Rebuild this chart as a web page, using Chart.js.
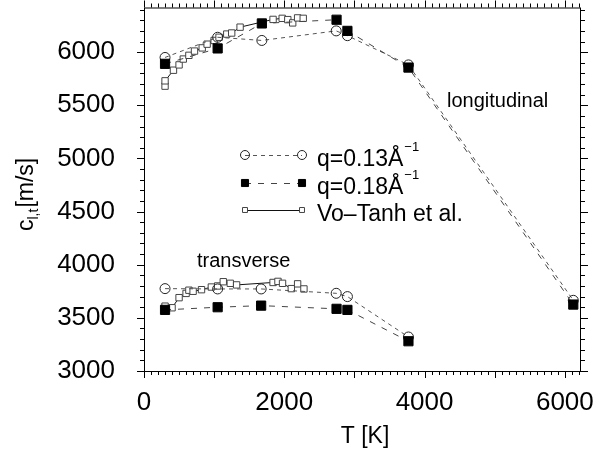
<!DOCTYPE html>
<html>
<head>
<meta charset="utf-8">
<script src="https://cdn.jsdelivr.net/npm/chart.js@4/dist/chart.umd.min.js"></script>
<style>
  html, body { margin: 0; padding: 0; background: #fff; }
  #wrap { width: 600px; height: 456px; }
</style>
</head>
<body>
<div id="wrap"><canvas id="myChart" width="600" height="456"></canvas></div>
<script>
// q = 0.13 1/A, open circles
const tQ13L = [300, 1050, 1680, 2740, 2900, 3770, 6120];
const cQ13L = [5950, 6140, 6110, 6200, 6155, 5880, 3665];
const tQ13T = [300, 1050, 1670, 2740, 2900, 3770];
const cQ13T = [3775, 3772, 3772, 3731, 3700, 3320];
// q = 0.18 1/A, filled squares
const tQ18L = [300, 1050, 1680, 2745, 2900, 3770, 6120];
const cQ18L = [5890, 6035, 6270, 6305, 6200, 5855, 3625];
const tQ18T = [300, 1050, 1670, 2745, 2900, 3770];
const cQ18T = [3575, 3600, 3615, 3585, 3575, 3280];
// Vo-Tanh et al.
const tVTL = [300, 300, 420, 500, 560, 640, 720, 830, 900, 1000, 1070, 1180, 1250, 1370, 1840, 1970, 2050, 2120, 2190, 2270];
const cVTL = [5680, 5730, 5830, 5880, 5935, 5970, 6010, 6040, 6075, 6110, 6140, 6170, 6180, 6235, 6308, 6318, 6306, 6275, 6322, 6318];
const tVTT = [300, 400, 500, 600, 640, 700, 820, 960, 1050, 1130, 1230, 1320, 1840, 1910, 1975, 2100, 2190, 2280];
const cVTT = [3610, 3595, 3690, 3730, 3760, 3750, 3765, 3790, 3800, 3840, 3825, 3810, 3833, 3843, 3825, 3775, 3820, 3772];

const legendNames = ['q=0.13Å', 'q=0.18Å', 'Vo–Tanh et al.'];
const xTickVals = [0, 2000, 4000, 6000];
const yTickVals = [3000, 3500, 4000, 4500, 5000, 5500, 6000];

function pts(xs, ys) {
  return xs.map((x, i) => ({x: x, y: ys[i]}));
}

const FONT = '"Liberation Sans", Arial, sans-serif';

const q13 = {
  showLine: true, borderColor: '#555', borderWidth: 1, borderDash: [4, 4],
  pointStyle: 'circle', pointRadius: 5, pointBorderColor: '#222',
  pointBackgroundColor: 'rgba(255,255,255,0)', pointBorderWidth: 1
};
const q18 = {
  showLine: true, borderColor: '#444', borderWidth: 1, borderDash: [6, 7],
  pointStyle: 'rect', pointRadius: 6.5, pointBorderColor: '#000',
  pointBackgroundColor: '#000', pointBorderWidth: 1
};
const vt = {
  showLine: true, borderColor: '#111', borderWidth: 1,
  pointStyle: 'rect', pointRadius: 4.5, pointBorderColor: '#444',
  pointBackgroundColor: '#fff', pointBorderWidth: 1
};

const data = {
  datasets: [
    Object.assign({label: legendNames[1], data: pts(tQ18L, cQ18L)}, q18),
    Object.assign({label: legendNames[1], data: pts(tQ18T, cQ18T)}, q18),
    Object.assign({label: legendNames[0], data: pts(tQ13L, cQ13L)}, q13),
    Object.assign({label: legendNames[0], data: pts(tQ13T, cQ13T)}, q13),
    Object.assign({label: legendNames[2], data: pts(tVTL, cVTL)}, vt),
    Object.assign({label: legendNames[2], data: pts(tVTT, cVTT)}, vt)
  ]
};

// box, minor ticks, titles, legend, labels
const decor = {
  id: 'decor',
  afterDraw(chart) {
    const ctx = chart.ctx;
    const a = chart.chartArea;
    const xs = chart.scales.x, ys = chart.scales.y;
    ctx.save();
    ctx.strokeStyle = '#000';
    ctx.lineWidth = 1;
    ctx.strokeRect(a.left + 0.5, a.top + 0.5, a.right - a.left - 1, a.bottom - a.top);
    ctx.beginPath();
    for (let v = 0; v <= 6200; v += 100) {
      const px = Math.round(xs.getPixelForValue(v)) + 0.5;
      const len = v % 1000 === 0 ? 7 : 4;
      ctx.moveTo(px, a.bottom); ctx.lineTo(px, a.bottom + len);
      ctx.moveTo(px, a.top); ctx.lineTo(px, a.top - len);
    }
    for (let v = 3000; v <= 6400; v += 100) {
      const py = Math.round(ys.getPixelForValue(v)) + 0.5;
      const len = v % 500 === 0 ? 7 : 4;
      ctx.moveTo(a.left, py); ctx.lineTo(a.left - len, py);
      ctx.moveTo(a.right, py); ctx.lineTo(a.right + len, py);
    }
    ctx.stroke();

    ctx.fillStyle = '#000';
    // x title
    ctx.font = '23px ' + FONT;
    ctx.textAlign = 'center';
    ctx.textBaseline = 'alphabetic';
    ctx.fillText('T [K]', 365, 443);
    // y title
    ctx.save();
    ctx.translate(33, 231);
    ctx.rotate(-Math.PI / 2);
    ctx.textAlign = 'left';
    ctx.font = '23px ' + FONT;
    ctx.fillText('c', 0, 0);
    let w = ctx.measureText('c').width;
    ctx.font = '14px ' + FONT;
    ctx.fillText('l,t', w, 5);
    w += ctx.measureText('l,t').width + 1;
    ctx.font = '23px ' + FONT;
    ctx.fillText('[m/s]', w, 0);
    ctx.restore();

    // annotations
    ctx.textAlign = 'left';
    ctx.font = '20px ' + FONT;
    ctx.fillText('longitudinal', 447, 107);
    ctx.fillText('transverse', 197, 267);

    // legend
    const rows = [
      {y: 155, text: legendNames[0], sup: true, st: q13, r: 4.5},
      {y: 183, text: legendNames[1], sup: true, st: q18, r: 5},
      {y: 210, text: legendNames[2], sup: false, st: vt, r: 3.5}
    ];
    rows.forEach(row => {
      ctx.save();
      ctx.strokeStyle = row.st.borderColor;
      ctx.lineWidth = 1;
      ctx.setLineDash(row.st.borderDash || []);
      ctx.beginPath();
      ctx.moveTo(245, row.y + 0.5);
      ctx.lineTo(302, row.y + 0.5);
      ctx.stroke();
      ctx.setLineDash([]);
      ctx.fillStyle = row.st.pointBackgroundColor;
      ctx.strokeStyle = row.st.pointBorderColor;
      [245, 302].forEach(x => {
        Chart.helpers.drawPoint(ctx, {pointStyle: row.st.pointStyle, radius: row.r, borderWidth: 1, rotation: 0}, x, row.y);
      });
      ctx.restore();
      ctx.fillStyle = '#000';
      ctx.font = '23px ' + FONT;
      ctx.fillText(row.text, 317, row.y + 11);
      if (row.sup) {
        const tw = ctx.measureText(row.text).width;
        ctx.font = '13px ' + FONT;
        ctx.fillText('−1', 317 + tw + 1, row.y - 4);
      }
    });
    ctx.restore();
  }
};

const config = {
  type: 'scatter',
  data: data,
  options: {
    responsive: false,
    animation: false,
    layout: { padding: { left: 0, right: 19, top: 6, bottom: 0 } },
    plugins: { legend: { display: false }, tooltip: { enabled: false } },
    scales: {
      x: {
        type: 'linear', min: 0, max: 6230,
        grid: { display: false }, border: { display: false },
        ticks: { padding: 8, color: '#000', font: { family: FONT, size: 26 },
                 maxRotation: 0, autoSkip: false, callback: v => String(v) },
        afterBuildTicks(scale) { scale.ticks = xTickVals.map(v => ({value: v})); },
        afterFit(scale) {
          scale.height = 85;
          scale.paddingLeft = 0; scale.paddingRight = 0;
        }
      },
      y: {
        type: 'linear', min: 3000, max: 6420,
        grid: { display: false }, border: { display: false },
        ticks: { padding: 21, color: '#000', font: { family: FONT, size: 26 },
                 autoSkip: false, callback: v => String(v) },
        afterBuildTicks(scale) { scale.ticks = yTickVals.map(v => ({value: v})); },
        afterFit(scale) {
          scale.width = 144;
          scale.paddingTop = 0; scale.paddingBottom = 0;
        }
      }
    }
  },
  plugins: [decor]
};

const myChart = new Chart(document.getElementById('myChart'), config);
</script>
</body>
</html>
